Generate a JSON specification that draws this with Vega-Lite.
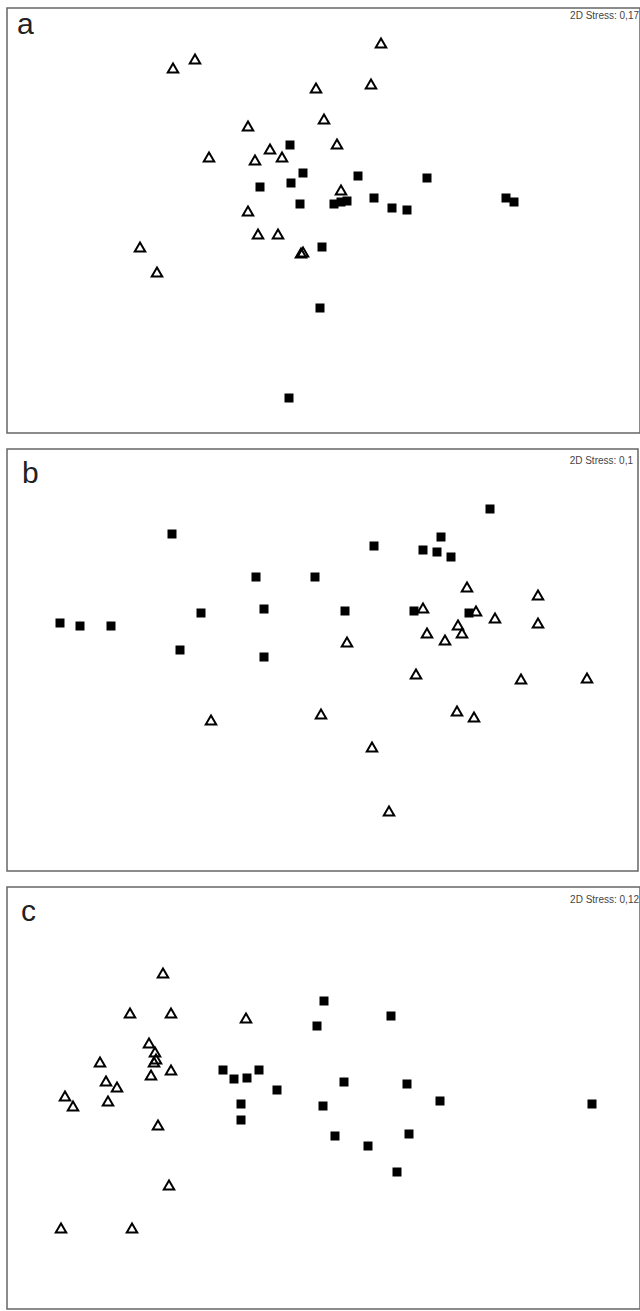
{
  "$schema": "https://vega.github.io/schema/vega-lite/v6.json",
  "background": "white",
  "padding": {"left": 6, "top": 7, "right": 0, "bottom": 0},
  "spacing": 14,
  "config": {
    "view": {"stroke": "#666", "strokeWidth": 1.5},
    "text": {"font": "Liberation Sans"}
  },
  "datasets": {
    "pts": [
      {"panel": "a", "group": "G2", "x": 166, "y": 365},
      {"panel": "a", "group": "G2", "x": 188, "y": 374},
      {"panel": "a", "group": "G2", "x": 309, "y": 345},
      {"panel": "a", "group": "G2", "x": 241, "y": 307},
      {"panel": "a", "group": "G2", "x": 317, "y": 314},
      {"panel": "a", "group": "G2", "x": 263, "y": 284},
      {"panel": "a", "group": "G2", "x": 275, "y": 276},
      {"panel": "a", "group": "G2", "x": 248, "y": 273},
      {"panel": "a", "group": "G2", "x": 202, "y": 276},
      {"panel": "a", "group": "G2", "x": 241, "y": 222},
      {"panel": "a", "group": "G2", "x": 374, "y": 390},
      {"panel": "a", "group": "G2", "x": 364, "y": 349},
      {"panel": "a", "group": "G2", "x": 330, "y": 289},
      {"panel": "a", "group": "G2", "x": 334, "y": 243},
      {"panel": "a", "group": "G2", "x": 251, "y": 199},
      {"panel": "a", "group": "G2", "x": 271, "y": 199},
      {"panel": "a", "group": "G2", "x": 133, "y": 186},
      {"panel": "a", "group": "G2", "x": 294, "y": 180},
      {"panel": "a", "group": "G2", "x": 296, "y": 181},
      {"panel": "a", "group": "G2", "x": 150, "y": 161},
      {"panel": "a", "group": "G1", "x": 283, "y": 288},
      {"panel": "a", "group": "G1", "x": 296, "y": 260},
      {"panel": "a", "group": "G1", "x": 284, "y": 250},
      {"panel": "a", "group": "G1", "x": 253, "y": 246},
      {"panel": "a", "group": "G1", "x": 293, "y": 229},
      {"panel": "a", "group": "G1", "x": 351, "y": 257},
      {"panel": "a", "group": "G1", "x": 420, "y": 255},
      {"panel": "a", "group": "G1", "x": 327, "y": 229},
      {"panel": "a", "group": "G1", "x": 334, "y": 231},
      {"panel": "a", "group": "G1", "x": 340, "y": 232},
      {"panel": "a", "group": "G1", "x": 367, "y": 235},
      {"panel": "a", "group": "G1", "x": 385, "y": 225},
      {"panel": "a", "group": "G1", "x": 400, "y": 223},
      {"panel": "a", "group": "G1", "x": 499, "y": 235},
      {"panel": "a", "group": "G1", "x": 507, "y": 231},
      {"panel": "a", "group": "G1", "x": 315, "y": 186},
      {"panel": "a", "group": "G1", "x": 313, "y": 125},
      {"panel": "a", "group": "G1", "x": 282, "y": 35},

      {"panel": "b", "group": "G2", "x": 460, "y": 284},
      {"panel": "b", "group": "G2", "x": 531, "y": 276},
      {"panel": "b", "group": "G2", "x": 416, "y": 263},
      {"panel": "b", "group": "G2", "x": 469, "y": 260},
      {"panel": "b", "group": "G2", "x": 488, "y": 253},
      {"panel": "b", "group": "G2", "x": 531, "y": 248},
      {"panel": "b", "group": "G2", "x": 451, "y": 246},
      {"panel": "b", "group": "G2", "x": 455, "y": 238},
      {"panel": "b", "group": "G2", "x": 420, "y": 238},
      {"panel": "b", "group": "G2", "x": 438, "y": 231},
      {"panel": "b", "group": "G2", "x": 340, "y": 229},
      {"panel": "b", "group": "G2", "x": 409, "y": 197},
      {"panel": "b", "group": "G2", "x": 514, "y": 192},
      {"panel": "b", "group": "G2", "x": 580, "y": 193},
      {"panel": "b", "group": "G2", "x": 204, "y": 151},
      {"panel": "b", "group": "G2", "x": 314, "y": 157},
      {"panel": "b", "group": "G2", "x": 450, "y": 160},
      {"panel": "b", "group": "G2", "x": 467, "y": 154},
      {"panel": "b", "group": "G2", "x": 365, "y": 124},
      {"panel": "b", "group": "G2", "x": 382, "y": 60},
      {"panel": "b", "group": "G1", "x": 165, "y": 337},
      {"panel": "b", "group": "G1", "x": 249, "y": 294},
      {"panel": "b", "group": "G1", "x": 308, "y": 294},
      {"panel": "b", "group": "G1", "x": 53, "y": 248},
      {"panel": "b", "group": "G1", "x": 73, "y": 245},
      {"panel": "b", "group": "G1", "x": 104, "y": 245},
      {"panel": "b", "group": "G1", "x": 194, "y": 258},
      {"panel": "b", "group": "G1", "x": 257, "y": 262},
      {"panel": "b", "group": "G1", "x": 173, "y": 221},
      {"panel": "b", "group": "G1", "x": 257, "y": 214},
      {"panel": "b", "group": "G1", "x": 483, "y": 362},
      {"panel": "b", "group": "G1", "x": 434, "y": 334},
      {"panel": "b", "group": "G1", "x": 367, "y": 325},
      {"panel": "b", "group": "G1", "x": 416, "y": 321},
      {"panel": "b", "group": "G1", "x": 430, "y": 319},
      {"panel": "b", "group": "G1", "x": 444, "y": 314},
      {"panel": "b", "group": "G1", "x": 338, "y": 260},
      {"panel": "b", "group": "G1", "x": 407, "y": 260},
      {"panel": "b", "group": "G1", "x": 462, "y": 258},

      {"panel": "c", "group": "G2", "x": 156, "y": 336},
      {"panel": "c", "group": "G2", "x": 123, "y": 296},
      {"panel": "c", "group": "G2", "x": 164, "y": 296},
      {"panel": "c", "group": "G2", "x": 239, "y": 291},
      {"panel": "c", "group": "G2", "x": 142, "y": 266},
      {"panel": "c", "group": "G2", "x": 148, "y": 257},
      {"panel": "c", "group": "G2", "x": 147, "y": 247},
      {"panel": "c", "group": "G2", "x": 149, "y": 250},
      {"panel": "c", "group": "G2", "x": 93, "y": 247},
      {"panel": "c", "group": "G2", "x": 164, "y": 239},
      {"panel": "c", "group": "G2", "x": 144, "y": 234},
      {"panel": "c", "group": "G2", "x": 99, "y": 228},
      {"panel": "c", "group": "G2", "x": 110, "y": 222},
      {"panel": "c", "group": "G2", "x": 58, "y": 213},
      {"panel": "c", "group": "G2", "x": 66, "y": 203},
      {"panel": "c", "group": "G2", "x": 101, "y": 208},
      {"panel": "c", "group": "G2", "x": 151, "y": 184},
      {"panel": "c", "group": "G2", "x": 162, "y": 124},
      {"panel": "c", "group": "G2", "x": 54, "y": 81},
      {"panel": "c", "group": "G2", "x": 125, "y": 81},
      {"panel": "c", "group": "G1", "x": 317, "y": 308},
      {"panel": "c", "group": "G1", "x": 310, "y": 283},
      {"panel": "c", "group": "G1", "x": 384, "y": 293},
      {"panel": "c", "group": "G1", "x": 216, "y": 239},
      {"panel": "c", "group": "G1", "x": 227, "y": 230},
      {"panel": "c", "group": "G1", "x": 240, "y": 231},
      {"panel": "c", "group": "G1", "x": 252, "y": 239},
      {"panel": "c", "group": "G1", "x": 270, "y": 219},
      {"panel": "c", "group": "G1", "x": 337, "y": 227},
      {"panel": "c", "group": "G1", "x": 400, "y": 225},
      {"panel": "c", "group": "G1", "x": 234, "y": 205},
      {"panel": "c", "group": "G1", "x": 316, "y": 203},
      {"panel": "c", "group": "G1", "x": 433, "y": 208},
      {"panel": "c", "group": "G1", "x": 585, "y": 205},
      {"panel": "c", "group": "G1", "x": 234, "y": 189},
      {"panel": "c", "group": "G1", "x": 328, "y": 173},
      {"panel": "c", "group": "G1", "x": 402, "y": 175},
      {"panel": "c", "group": "G1", "x": 361, "y": 163},
      {"panel": "c", "group": "G1", "x": 390, "y": 137}
    ],
    "labels": [
      {"panel": "a", "letter": "a", "stress": "2D Stress: 0,17"},
      {"panel": "b", "letter": "b", "stress": "2D Stress: 0,1"},
      {"panel": "c", "letter": "c", "stress": "2D Stress: 0,12"}
    ]
  },
  "vconcat": [
    {
      "width": 633, "height": 425,
      "layer": [
        {
          "data": {"name": "pts"},
          "transform": [{"filter": "datum.panel === 'a' && datum.group === 'G2'"}],
          "mark": {"type": "point", "shape": "triangle-up", "filled": false, "stroke": "black", "strokeWidth": 2, "size": 110, "opacity": 1},
          "encoding": {
            "x": {"field": "x", "type": "quantitative", "scale": {"domain": [0, 633], "nice": false, "zero": false}, "axis": null},
            "y": {"field": "y", "type": "quantitative", "scale": {"domain": [0, 425], "nice": false, "zero": false}, "axis": null}
          }
        },
        {
          "data": {"name": "pts"},
          "transform": [{"filter": "datum.panel === 'a' && datum.group === 'G1'"}],
          "mark": {"type": "point", "shape": "square", "filled": true, "color": "black", "size": 81, "opacity": 1},
          "encoding": {
            "x": {"field": "x", "type": "quantitative"},
            "y": {"field": "y", "type": "quantitative"}
          }
        },
        {
          "data": {"name": "labels"},
          "transform": [{"filter": "datum.panel === 'a'"}],
          "mark": {"type": "text", "align": "left", "baseline": "alphabetic", "fontSize": 30, "color": "#222"},
          "encoding": {
            "x": {"datum": 10, "type": "quantitative"},
            "y": {"datum": 399, "type": "quantitative"},
            "text": {"field": "letter"}
          }
        },
        {
          "data": {"name": "labels"},
          "transform": [{"filter": "datum.panel === 'a'"}],
          "mark": {"type": "text", "align": "right", "baseline": "middle", "fontSize": 10, "color": "#444"},
          "encoding": {
            "x": {"datum": 632, "type": "quantitative"},
            "y": {"datum": 417, "type": "quantitative"},
            "text": {"field": "stress"}
          }
        }
      ]
    },
    {
      "width": 631, "height": 422,
      "layer": [
        {
          "data": {"name": "pts"},
          "transform": [{"filter": "datum.panel === 'b' && datum.group === 'G2'"}],
          "mark": {"type": "point", "shape": "triangle-up", "filled": false, "stroke": "black", "strokeWidth": 2, "size": 110, "opacity": 1},
          "encoding": {
            "x": {"field": "x", "type": "quantitative", "scale": {"domain": [0, 631], "nice": false, "zero": false}, "axis": null},
            "y": {"field": "y", "type": "quantitative", "scale": {"domain": [0, 422], "nice": false, "zero": false}, "axis": null}
          }
        },
        {
          "data": {"name": "pts"},
          "transform": [{"filter": "datum.panel === 'b' && datum.group === 'G1'"}],
          "mark": {"type": "point", "shape": "square", "filled": true, "color": "black", "size": 81, "opacity": 1},
          "encoding": {
            "x": {"field": "x", "type": "quantitative"},
            "y": {"field": "y", "type": "quantitative"}
          }
        },
        {
          "data": {"name": "labels"},
          "transform": [{"filter": "datum.panel === 'b'"}],
          "mark": {"type": "text", "align": "left", "baseline": "alphabetic", "fontSize": 30, "color": "#222"},
          "encoding": {
            "x": {"datum": 15, "type": "quantitative"},
            "y": {"datum": 388, "type": "quantitative"},
            "text": {"field": "letter"}
          }
        },
        {
          "data": {"name": "labels"},
          "transform": [{"filter": "datum.panel === 'b'"}],
          "mark": {"type": "text", "align": "right", "baseline": "middle", "fontSize": 10, "color": "#444"},
          "encoding": {
            "x": {"datum": 626, "type": "quantitative"},
            "y": {"datum": 410, "type": "quantitative"},
            "text": {"field": "stress"}
          }
        }
      ]
    },
    {
      "width": 633, "height": 422,
      "layer": [
        {
          "data": {"name": "pts"},
          "transform": [{"filter": "datum.panel === 'c' && datum.group === 'G2'"}],
          "mark": {"type": "point", "shape": "triangle-up", "filled": false, "stroke": "black", "strokeWidth": 2, "size": 110, "opacity": 1},
          "encoding": {
            "x": {"field": "x", "type": "quantitative", "scale": {"domain": [0, 633], "nice": false, "zero": false}, "axis": null},
            "y": {"field": "y", "type": "quantitative", "scale": {"domain": [0, 422], "nice": false, "zero": false}, "axis": null}
          }
        },
        {
          "data": {"name": "pts"},
          "transform": [{"filter": "datum.panel === 'c' && datum.group === 'G1'"}],
          "mark": {"type": "point", "shape": "square", "filled": true, "color": "black", "size": 81, "opacity": 1},
          "encoding": {
            "x": {"field": "x", "type": "quantitative"},
            "y": {"field": "y", "type": "quantitative"}
          }
        },
        {
          "data": {"name": "labels"},
          "transform": [{"filter": "datum.panel === 'c'"}],
          "mark": {"type": "text", "align": "left", "baseline": "alphabetic", "fontSize": 30, "color": "#222"},
          "encoding": {
            "x": {"datum": 14, "type": "quantitative"},
            "y": {"datum": 388, "type": "quantitative"},
            "text": {"field": "letter"}
          }
        },
        {
          "data": {"name": "labels"},
          "transform": [{"filter": "datum.panel === 'c'"}],
          "mark": {"type": "text", "align": "right", "baseline": "middle", "fontSize": 10, "color": "#444"},
          "encoding": {
            "x": {"datum": 632, "type": "quantitative"},
            "y": {"datum": 409, "type": "quantitative"},
            "text": {"field": "stress"}
          }
        }
      ]
    }
  ]
}
